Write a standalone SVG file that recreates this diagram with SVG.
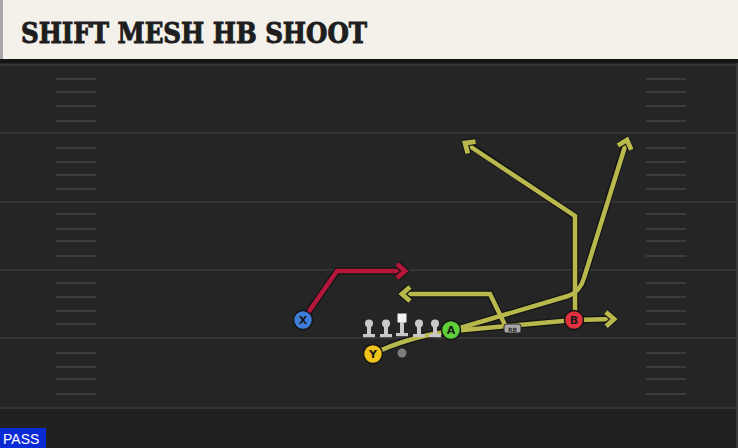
<svg xmlns="http://www.w3.org/2000/svg" width="738" height="448" viewBox="0 0 738 448">
<style>
.yl{stroke:#3a3a3a;stroke-width:1.5}
.hash{stroke:#3c3c3c;stroke-width:2}
.rt{fill:none;stroke:#b9b84d;stroke-width:4.5;stroke-linejoin:miter}
.rtb{fill:none;stroke:#141414;stroke-width:7}
.red{stroke:#b3173a}
.ol{fill:#c9c9c9}
.lbl{font-family:"DejaVu Sans",sans-serif;font-weight:bold;font-size:11px;fill:#1a1a1a;text-anchor:middle}
</style>
<defs>
<marker id="ay" markerUnits="userSpaceOnUse" viewBox="-14 -12 18 24" markerWidth="18" markerHeight="24" refX="0" refY="0" orient="auto">
<path d="M-8,-7 L0,0 L-8,7" fill="none" stroke="#141414" stroke-width="7"/>
<path d="M-8,-7 L0,0 L-8,7" fill="none" stroke="#b9b84d" stroke-width="4.8"/>
</marker>
<marker id="ar" markerUnits="userSpaceOnUse" viewBox="-14 -12 18 24" markerWidth="18" markerHeight="24" refX="0" refY="0" orient="auto">
<path d="M-8,-7 L0,0 L-8,7" fill="none" stroke="#141414" stroke-width="7"/>
<path d="M-8,-7 L0,0 L-8,7" fill="none" stroke="#b3173a" stroke-width="4.8"/>
</marker>
<g id="lin">
<circle cx="0" cy="-9.5" r="4"/>
<rect x="-2" y="-8" width="4" height="9"/>
<rect x="-6" y="1" width="12" height="3.2"/>
</g>
</defs>
<rect width="738" height="448" fill="#252525"/>
<rect x="0" y="408" width="738" height="40" fill="#212121"/>
<g id="field">
<line class="yl" x1="0" y1="65" x2="738" y2="65"/>
<line class="yl" x1="0" y1="133" x2="738" y2="133"/>
<line class="yl" x1="0" y1="202" x2="738" y2="202"/>
<line class="yl" x1="0" y1="270" x2="738" y2="270"/>
<line class="yl" x1="0" y1="338" x2="738" y2="338"/>
<line class="yl" x1="0" y1="408" x2="738" y2="408"/>
<g class="hash">
<line x1="56" y1="79" x2="96" y2="79"/><line x1="56" y1="92" x2="96" y2="92"/><line x1="56" y1="106" x2="96" y2="106"/><line x1="56" y1="121" x2="96" y2="121"/>
<line x1="56" y1="148" x2="96" y2="148"/><line x1="56" y1="162" x2="96" y2="162"/><line x1="56" y1="175" x2="96" y2="175"/><line x1="56" y1="189" x2="96" y2="189"/>
<line x1="56" y1="214" x2="96" y2="214"/><line x1="56" y1="229" x2="96" y2="229"/><line x1="56" y1="241" x2="96" y2="241"/><line x1="56" y1="256" x2="96" y2="256"/>
<line x1="56" y1="283" x2="96" y2="283"/><line x1="56" y1="297" x2="96" y2="297"/><line x1="56" y1="311" x2="96" y2="311"/><line x1="56" y1="324" x2="96" y2="324"/>
<line x1="56" y1="353" x2="96" y2="353"/><line x1="56" y1="367" x2="96" y2="367"/><line x1="56" y1="379" x2="96" y2="379"/><line x1="56" y1="394" x2="96" y2="394"/>
<line x1="646" y1="79" x2="686" y2="79"/><line x1="646" y1="92" x2="686" y2="92"/><line x1="646" y1="106" x2="686" y2="106"/><line x1="646" y1="121" x2="686" y2="121"/>
<line x1="646" y1="148" x2="686" y2="148"/><line x1="646" y1="162" x2="686" y2="162"/><line x1="646" y1="175" x2="686" y2="175"/><line x1="646" y1="189" x2="686" y2="189"/>
<line x1="646" y1="214" x2="686" y2="214"/><line x1="646" y1="229" x2="686" y2="229"/><line x1="646" y1="241" x2="686" y2="241"/><line x1="646" y1="256" x2="686" y2="256"/>
<line x1="646" y1="283" x2="686" y2="283"/><line x1="646" y1="297" x2="686" y2="297"/><line x1="646" y1="311" x2="686" y2="311"/><line x1="646" y1="324" x2="686" y2="324"/>
<line x1="646" y1="353" x2="686" y2="353"/><line x1="646" y1="367" x2="686" y2="367"/><line x1="646" y1="379" x2="686" y2="379"/><line x1="646" y1="394" x2="686" y2="394"/>
</g>
<line x1="737" y1="62" x2="737" y2="448" stroke="#3a3a3a" stroke-width="2"/>
</g>
<g id="header">
<rect x="0" y="0" width="738" height="60" fill="#f4f1ea"/>
<rect x="0" y="0" width="3" height="60" fill="#a9a9a9"/>
<rect x="0" y="59" width="738" height="4" fill="#151515"/>
<text x="21" y="43" font-family="'DejaVu Serif',serif" font-weight="bold" font-size="28" fill="#1e1e1e" stroke="#1e1e1e" stroke-width="1" textLength="346" lengthAdjust="spacingAndGlyphs">SHIFT MESH HB SHOOT</text>
</g>
<g id="connectors">
<path class="rtb" d="M373,354 Q405,338 450,331"/>
<path class="rtb" d="M505,325 L490,294 L407,294"/>
<path class="rtb" d="M453,330 L568,296 Q580,292 584,278 L624,148"/>
<path class="rtb" d="M575,320 L575,216 L471,146"/>
<path class="rtb" d="M453,331 L574,320 L608,319"/>
<path class="rtb" d="M303,320 L337,271 L399,271"/>
<path class="rt" d="M373,354 Q405,338 450,331"/>
<path class="rt" d="M505,325 L490,294 L402,294" marker-end="url(#ay)"/>
<path class="rt" d="M453,330 L568,296 Q580,292 584,278 L627,140" marker-end="url(#ay)"/>
<path class="rt" d="M575,320 L575,216 L465,143" marker-end="url(#ay)"/>
<path class="rt" d="M453,331 L574,320 L614,319" marker-end="url(#ay)"/>
<path class="rt red" d="M303,320 L337,271 L405,271" marker-end="url(#ar)"/>
</g>
<g id="line" class="ol">
<use href="#lin" x="369" y="333"/>
<use href="#lin" x="386" y="333"/>
<g id="center"><rect x="397.5" y="313.5" width="9" height="9" fill="#f2f2f2"/><rect x="400" y="322" width="4" height="11"/><rect x="396" y="333" width="12" height="3.2"/></g>
<use href="#lin" x="419" y="333"/>
<use href="#lin" x="435" y="333"/>
</g>
<g id="ball"><circle cx="402" cy="353" r="4.5" fill="#7d7d7d"/></g>
<g id="rb">
<rect x="504" y="324" width="17" height="9" rx="2.5" fill="#a8a8a8" stroke="#222" stroke-width="1"/>
<text x="512.5" y="331.5" font-family="'DejaVu Sans',sans-serif" font-weight="bold" font-size="6" fill="#333" text-anchor="middle">RB</text>
</g>
<g id="X"><circle cx="303" cy="320" r="9.5" fill="#3f7ed8" stroke="#151515" stroke-width="1.5"/><text class="lbl" x="303" y="324">X</text></g>
<g id="Y"><circle cx="373" cy="354" r="9.5" fill="#f1c21b" stroke="#151515" stroke-width="1.5"/><text class="lbl" x="373" y="358">Y</text></g>
<g id="A"><circle cx="451" cy="330" r="9.5" fill="#5fd03a" stroke="#151515" stroke-width="1.5"/><text class="lbl" x="451" y="334">A</text></g>
<g id="B"><circle cx="574" cy="320" r="9.5" fill="#e2313e" stroke="#151515" stroke-width="1.5"/><text class="lbl" x="574" y="324">B</text></g>
<g id="pass">
<rect x="0" y="428" width="46" height="20" fill="#0a2ad6"/>
<text x="3" y="444" font-family="'Liberation Sans',Arial,sans-serif" font-size="14" fill="#ffffff">PASS</text>
</g>
</svg>
